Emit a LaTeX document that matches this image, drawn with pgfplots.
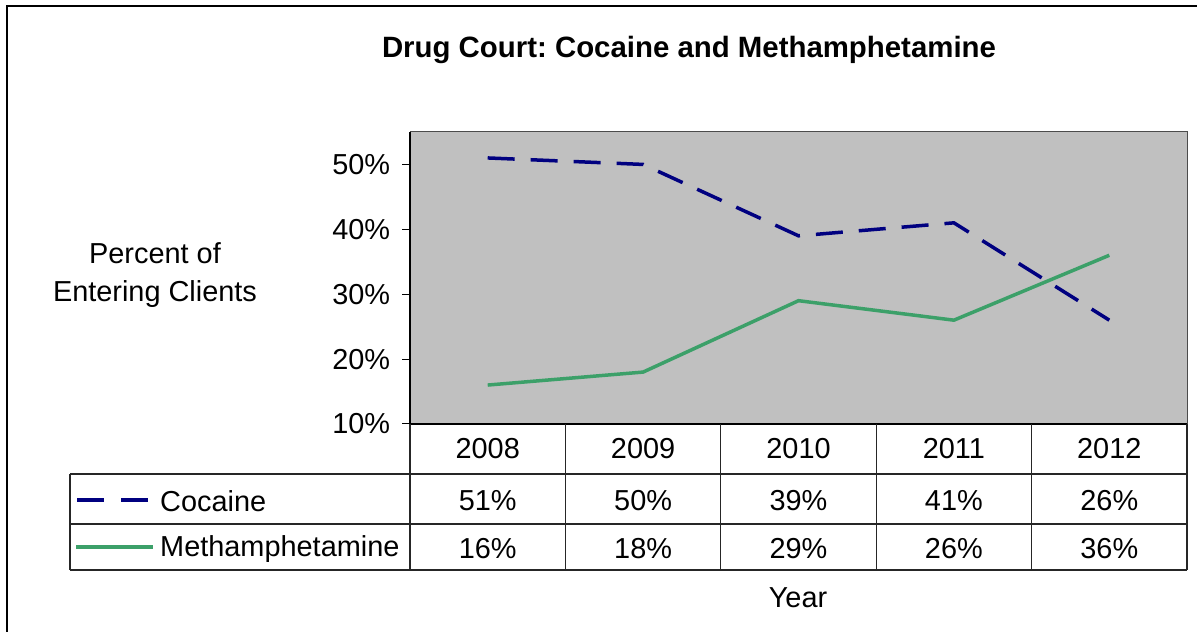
\documentclass[border=0pt]{standalone}
\usepackage{pgfplots}
\pgfplotsset{compat=1.18}
\usepackage{fontspec}
\setmainfont{Liberation Sans}
\usepackage{pgfplotstable}
\definecolor{plotgray}{RGB}{192,192,192}
\definecolor{coc}{RGB}{0,0,128}
\definecolor{meth}{RGB}{60,160,105}
\pgfplotstableread{
x coc meth
0 51 16
1 50 18
2 39 29
3 41 26
4 26 36
}\datatable
\begin{document}
\frenchspacing
\fontsize{29}{34}\selectfont
\begin{tikzpicture}[x=1bp,y=1bp]
\useasboundingbox (0,0) rectangle (1197,632);
\draw[line width=1.5bp] (7,-10) -- (7,626) -- (1210,626);
\node[font=\bfseries\fontsize{29.5}{35}\selectfont] at (689,582) {Drug Court: Cocaine and Methamphetamine};
\node[align=center, font=\fontsize{29}{38}\selectfont] at (155,357) {Percent of\\Entering Clients};
\begin{axis}[at={(410bp,208bp)}, anchor=south west, scale only axis,
  width=777bp, height=292bp,
  xmin=-0.5, xmax=4.5, ymin=10, ymax=55,
  xtick={0,1,2,3,4}, xticklabels={2008,2009,2010,2011,2012},
  ytick={10,20,30,40,50}, yticklabels={10\%,20\%,30\%,40\%,50\%},
  axis background/.style={fill=plotgray},
  axis line style={draw=gray!60!black, line width=1bp},
  tick align=outside, major tick length=8bp,
  x tick style={draw=none}, y tick style={black, line width=1bp},
  ytick pos=left, xtick pos=bottom, clip=false,
  tick label style={font=\fontsize{29}{34}\selectfont},
  xticklabel style={anchor=center, yshift=-17bp},
  yticklabel style={anchor=east, xshift=-2bp},
  ]
\addplot[coc, line width=3.5bp, dash pattern=on 27bp off 16bp] table[x=x, y=coc] {\datatable};
\addplot[meth, line width=3.5bp] table[x=x, y=meth] {\datatable};
\draw[black, line width=1.2bp] (rel axis cs:0,0) -- (rel axis cs:0,1);
\draw[black, line width=1.2bp] (rel axis cs:0,0) -- (rel axis cs:1,0);
\end{axis}
% table grid
\begin{scope}[line width=1.2bp, draw=black!85]
\draw (70,158) -- (1187,158);
\draw (70,108) -- (1187,108);
\draw (70,62) -- (1187,62);
\draw (70,158) -- (70,62);
\foreach \xx in {410,565.4,720.8,876.2,1031.6,1187} \draw (\xx,208) -- (\xx,62);
\end{scope}
\draw[coc, line width=3.5bp, dash pattern=on 27bp off 17bp] (77,132) -- (148,132);
\draw[meth, line width=3.5bp] (76,85) -- (153,85);
\node[anchor=west, inner sep=0pt] at (160,131) {Cocaine};
\node[anchor=west, inner sep=0pt] at (160,83) {Methamphetamine};
\foreach \xx/\a/\b in {487.7/51/16,643.1/50/18,798.5/39/29,953.9/41/26,1109.3/26/36} {
  \node at (\xx,131) {\a\%};
  \node at (\xx,83) {\b\%};
}
\node at (798,34) {Year};
\end{tikzpicture}
\end{document}
